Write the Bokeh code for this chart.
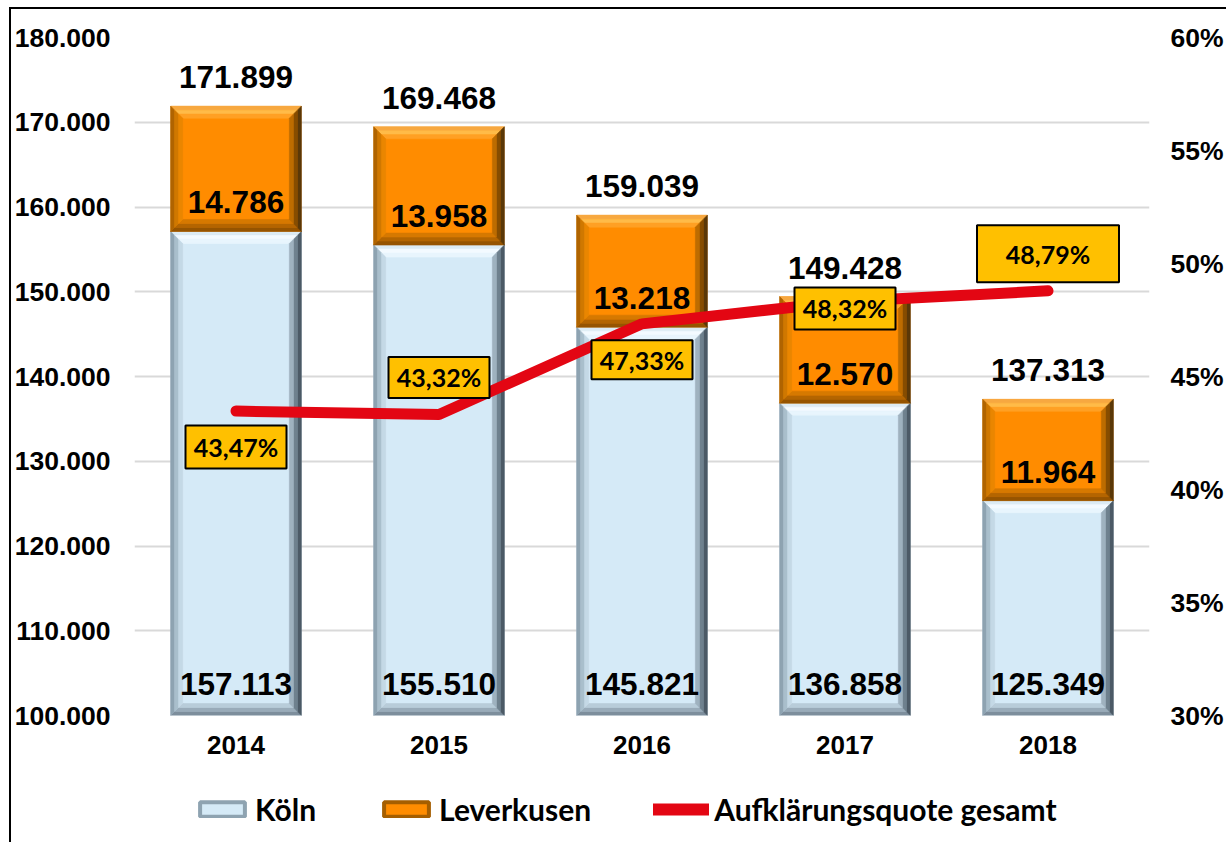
import numpy as np
from bokeh.plotting import figure
from bokeh.layouts import column
from bokeh.models import (ColumnDataSource, Range1d, LinearAxis, FixedTicker,
                          NumeralTickFormatter, Legend, LegendItem)
from bokeh.core.properties import value
from bokeh.embed import file_html
from bokeh.resources import INLINE

# ---------------- data ----------------
years = ["2014", "2015", "2016", "2017", "2018"]
koeln = [157113, 155510, 145821, 136858, 125349]
leverkusen = [14786, 13958, 13218, 12570, 11964]
totals = [171899, 169468, 159039, 149428, 137313]
quote = [0.4347, 0.4332, 0.4733, 0.4832, 0.4879]
quote_text = ["43,47%", "43,32%", "47,33%", "48,32%", "48,79%"]
y_ticks = [100000, 110000, 120000, 130000, 140000, 150000, 160000, 170000, 180000]
y_tick_labels = ["100.000", "110.000", "120.000", "130.000", "140.000",
                 "150.000", "160.000", "170.000", "180.000"]
pct_ticks = [0.30, 0.35, 0.40, 0.45, 0.50, 0.55, 0.60]

# ---------------- geometry / styles ----------------
FRAME_W, FRAME_H = 1015, 678
BL, BR, BT, BB = 122, 76, 28, 55
TOTAL_W = BL + FRAME_W + BR
LEG_H = 72
Y0, Y1 = 100000, 180000
P0, P1 = 0.30, 0.60
upp = (Y1 - Y0) / FRAME_H          # y data units per pixel
pupp = (P1 - P0) / FRAME_H         # pct units per pixel
xupp = 5.0 / FRAME_W               # x units per pixel
HALF = 0.322

def fmt(v):
    return f"{v:,}".replace(",", ".")

NUM_FONT = value("Liberation Sans")
CAL_FONT = value("Lato")

p = figure(frame_width=FRAME_W, frame_height=FRAME_H,
           x_range=Range1d(-0.5, 4.5), y_range=Range1d(Y0, Y1),
           output_backend="svg", toolbar_location=None,
           min_border_left=BL, min_border_right=BR,
           min_border_top=BT, min_border_bottom=BB)
p.extra_y_ranges = {"pct": Range1d(P0, P1)}
p.outline_line_color = None
p.background_fill_color = "white"
p.border_fill_color = "white"

def style_axis(ax, size, standoff):
    ax.axis_line_color = None
    ax.major_tick_line_color = None
    ax.minor_tick_line_color = None
    ax.major_tick_out = 0
    ax.major_tick_in = 0
    ax.minor_tick_out = 0
    ax.minor_tick_in = 0
    ax.major_label_text_font = "Liberation Sans"
    ax.major_label_text_font_style = "bold"
    ax.major_label_text_font_size = size
    ax.major_label_text_color = "black"
    ax.major_label_standoff = standoff

p.xaxis.ticker = FixedTicker(ticks=list(range(len(years))))
p.xaxis.major_label_overrides = {i: y for i, y in enumerate(years)}
style_axis(p.xaxis[0], "26px", 20)

p.yaxis.ticker = FixedTicker(ticks=y_ticks)
p.yaxis.major_label_overrides = dict(zip(y_ticks, y_tick_labels))
style_axis(p.yaxis[0], "26.5px", 24)

ax2 = LinearAxis(y_range_name="pct", ticker=FixedTicker(ticks=pct_ticks),
                 formatter=NumeralTickFormatter(format="0%"))
style_axis(ax2, "26.5px", 21)
p.add_layout(ax2, "right")

p.xgrid.visible = False
p.ygrid.ticker = FixedTicker(ticks=y_ticks)
p.ygrid.grid_line_color = "#d9d9d9"
p.ygrid.grid_line_width = 2

# ---------------- bars with bevel ----------------
x = np.arange(len(years), dtype=float)
kb = [Y0] * len(years)
kt = list(koeln)
lb = list(koeln)
lt = [k + l for k, l in zip(koeln, leverkusen)]

KOELN = dict(main="#d5eaf7",
             top=["#dcebf4", "#f3faff", "#e8f5fd"],
             left=["#8ea3b1", "#a9bfcc", "#c4d9e6"],
             right=["#4c5a66", "#6f818e", "#9fb2bf"],
             bottom=["#7d8e9c", "#99abb9", "#b8ccd9"])
LEV = dict(main="#ff8c00",
           top=["#f7a840", "#ffbb48", "#ffa024"],
           left=["#b06400", "#d07800", "#ea8600"],
           right=["#5a3808", "#864d00", "#bd6c00"],
           bottom=["#965400", "#b46500", "#d67900"])

def bevel_source(bottoms, tops, pal, step=4):
    xs, ys, cs = [], [], []
    for xc, y0, y1 in zip(x, bottoms, tops):
        x0, x1 = xc - HALF, xc + HALF
        for k in range(3):
            d0x, d1x = k * step * xupp, (k + 1) * step * xupp
            d0y, d1y = k * step * upp, (k + 1) * step * upp
            xs.append([x0 + d0x, x1 - d0x, x1 - d1x, x0 + d1x])
            ys.append([y1 - d0y, y1 - d0y, y1 - d1y, y1 - d1y]); cs.append(pal["top"][k])
            xs.append([x0 + d0x, x1 - d0x, x1 - d1x, x0 + d1x])
            ys.append([y0 + d0y, y0 + d0y, y0 + d1y, y0 + d1y]); cs.append(pal["bottom"][k])
            xs.append([x0 + d0x, x0 + d0x, x0 + d1x, x0 + d1x])
            ys.append([y0 + d0y, y1 - d0y, y1 - d1y, y0 + d1y]); cs.append(pal["left"][k])
            xs.append([x1 - d0x, x1 - d0x, x1 - d1x, x1 - d1x])
            ys.append([y0 + d0y, y1 - d0y, y1 - d1y, y0 + d1y]); cs.append(pal["right"][k])
    return ColumnDataSource(dict(xs=xs, ys=ys, c=cs))

for bottoms, tops, pal in ((kb, kt, KOELN), (lb, lt, LEV)):
    p.quad(left=x - HALF, right=x + HALF, bottom=bottoms, top=tops,
           fill_color=pal["main"], line_color=None)
    p.patches("xs", "ys", source=bevel_source(bottoms, tops, pal),
              fill_color="c", line_color="c", line_width=0.6)

# ---------------- value labels ----------------
lab = ColumnDataSource(dict(
    x=np.concatenate([x, x, x]),
    y=[Y0 + 32 * upp] * 5 + [k + 29 * upp for k in koeln] + [t + 29 * upp for t in totals],
    t=[fmt(v) for v in koeln] + [fmt(v) for v in leverkusen] + [fmt(v) for v in totals]))
p.text("x", "y", text="t", source=lab, text_font=NUM_FONT, text_font_style="bold",
       text_font_size="31.5px", text_align="center", text_baseline="middle",
       text_color="black")

# ---------------- line ----------------
RED = "#e30613"
p.line(x, quote, y_range_name="pct", line_color=RED, line_width=11,
       line_cap="round", line_join="round")

# ---------------- percent boxes ----------------
off_px = [36, -37, 36, 7, -37]
bw = [101, 101, 101, 101, 142]
bh = [43, 41, 39, 42, 57]
pbox = ColumnDataSource(dict(x=x, y=[q - o * pupp for q, o in zip(quote, off_px)],
                             w=bw, h=bh, t=quote_text))
p.rect("x", "y", width="w", height="h", width_units="screen", height_units="screen",
       source=pbox, y_range_name="pct", fill_color="#ffc000", line_color="black",
       line_width=2)
p.text("x", "y", text="t", source=pbox, y_range_name="pct", text_font=CAL_FONT,
       text_font_style="bold", text_font_size="25px", text_align="center",
       text_baseline="middle", text_color="black")

# ---------------- legend (own strip below the chart) ----------------
lg = figure(width=TOTAL_W, height=LEG_H, x_range=Range1d(0, 1), y_range=Range1d(0, 1),
            x_axis_location=None, y_axis_location=None,
            output_backend="svg", toolbar_location=None,
            min_border_left=0, min_border_right=0, min_border_top=0, min_border_bottom=0)
lg.grid.visible = False
lg.outline_line_color = None
lg.background_fill_color = "white"
lg.border_fill_color = "white"
# legend-only renderers (their data lie outside the visible ranges)
leg_k = lg.quad(left=[5], right=[6], top=[6], bottom=[5], fill_color=KOELN["main"],
                line_color="#8ea3b1", line_width=4)
leg_l = lg.quad(left=[5], right=[6], top=[6], bottom=[5], fill_color=LEV["main"],
                line_color="#a55e00", line_width=4)
leg_r = lg.line(x=[5, 6], y=[5, 5], line_color=RED, line_width=12, line_cap="round")
legend = Legend(items=[LegendItem(label="Köln", renderers=[leg_k]),
                       LegendItem(label="Leverkusen", renderers=[leg_l]),
                       LegendItem(label="Aufklärungsquote gesamt", renderers=[leg_r])],
                orientation="horizontal", location=(60, 15),
                glyph_width=56, glyph_height=18, label_standoff=5, spacing=62,
                padding=0, margin=0, border_line_color=None,
                background_fill_alpha=0,
                label_text_font="Lato", label_text_font_style="bold",
                label_text_font_size="30px", label_text_color="black")
lg.add_layout(legend)

layout = column(p, lg, spacing=0,
                styles={"margin-left": "9px", "margin-top": "7px",
                        "border-left": "2px solid black", "border-top": "2px solid black"})

open("out.html", "w").write(file_html(layout, INLINE))
